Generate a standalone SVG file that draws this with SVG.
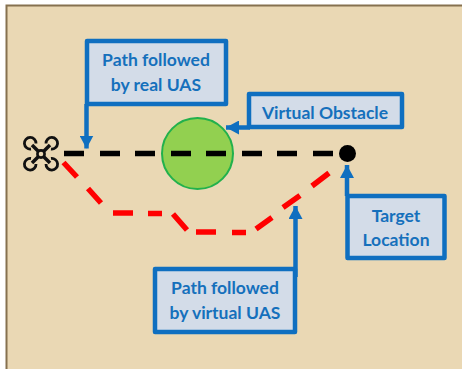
<svg xmlns="http://www.w3.org/2000/svg" width="462" height="369" viewBox="0 0 462 369">
<style>
.box{fill:#D3DCE8;stroke:#0F6FC0;stroke-width:4.500;stroke-linejoin:round}
.lbl{font-family:"Lato","Open Sans",sans-serif;font-weight:700;font-size:17.500px;fill:#1570BC;text-anchor:middle}
.lead{fill:none;stroke:#0F6FC0;stroke-width:4.500}
.dash{fill:none;stroke-width:5.500}
.rotor{fill:none;stroke:#111;stroke-width:2.800}
</style>
<defs>
<marker id="a" markerUnits="userSpaceOnUse" markerWidth="13" markerHeight="14" refX="13" refY="7" orient="auto"><path d="M0 0L13 7L0 14Z" fill="#0F6FC0"/></marker>
</defs>
<rect width="462" height="369" fill="#fff"/>
<rect x="6.500" y="5.500" width="470" height="380" fill="#EAD8B4" stroke="#86714F" stroke-width="2"/>
<g id="obstacle"><circle cx="197.500" cy="153.500" r="35.500" fill="#92D050" stroke="#22B14C" stroke-width="2"/></g>
<g id="connectors">
<path class="dash" stroke="#000" d="M64 153.500H84M100 153.500H120M135 153.500H155M171 153.500H191M206 153.500H226M242 153.500H262M277 153.500H297M313 153.500H333"/>
<path class="dash" stroke="#F00" d="M63.500 162.500L77 177M88 188.500L101 203M113 213H133M148 213.500H162M173 214L187 230M196 232H216M232 232.500H246M256 229L272 217.500M283 207.500L300 195.500M312 186L329 173"/>
<path class="lead" marker-end="url(#a)" d="M86.500 104V148.500"/>
<path class="lead" marker-end="url(#a)" d="M250 127.500H226"/>
<path class="lead" marker-end="url(#a)" d="M347 196V165"/>
<path class="lead" marker-end="url(#a)" d="M295.500 277V206"/>
</g>
<g id="uas">
<path d="M32 145L50 163M50 145L32 163" stroke="#111" stroke-width="3.500" fill="none"/>
<path class="rotor" d="M31 149A5.800 5.800 0 1 1 36 143.500M51 149A5.800 5.800 0 1 0 46 143.500M31 158.500A5.800 5.800 0 1 0 36 164M51 158.500A5.800 5.800 0 1 1 46 164"/>
<circle cx="41" cy="154" r="3.600" fill="#EAD8B4" stroke="#111" stroke-width="2.600"/>
</g>
<g id="target"><circle cx="347.500" cy="153.500" r="8.500" fill="#000"/></g>
<g id="real-label"><rect class="box" x="87" y="41" width="139" height="63"/><text class="lbl" x="156" y="66">Path followed</text><text class="lbl" x="156" y="91">by real UAS</text></g>
<g id="obstacle-label"><rect class="box" x="249" y="94" width="153" height="33"/><text class="lbl" x="325" y="119">Virtual Obstacle</text></g>
<g id="target-label"><rect class="box" x="347.500" y="196" width="97" height="62"/><text class="lbl" x="396" y="222">Target</text><text class="lbl" x="396" y="246">Location</text></g>
<g id="virtual-label"><rect class="box" x="155" y="269" width="140" height="63"/><text class="lbl" x="225" y="294">Path followed</text><text class="lbl" x="225" y="319">by virtual UAS</text></g>
</svg>
